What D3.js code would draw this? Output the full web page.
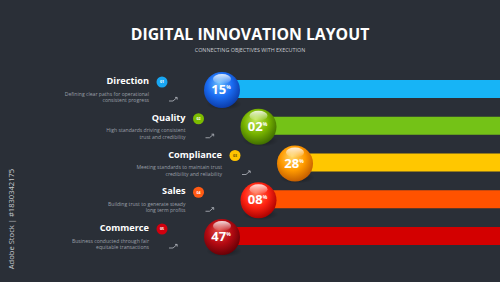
<!DOCTYPE html>
<meta charset="utf-8">
<script src="https://d3js.org/d3.v7.min.js"></script>
<style>
  body { margin: 0; background: #2a2f37; }
  text { font-family: "Open Sans", sans-serif; }
</style>
<svg id="chart" width="500" height="282"></svg>
<script>
// data
const categories = ["Direction", "Quality", "Compliance", "Sales", "Commerce"];
const values = [15, 2, 28, 8, 47];
const badges = ["01", "02", "03", "04", "05"];
const descLine1 = [
  "Defining clear paths for operational",
  "High standards driving consistent",
  "Meeting standards to maintain trust",
  "Building trust to generate steady",
  "Business conducted through fair"
];
const descLine2 = [
  "consistent progress",
  "trust and credibility",
  "credibility and reliability",
  "long term profits",
  "equitable transactions"
];

// look
const barColors = ["#17b4f6", "#74c217", "#ffc700", "#ff5200", "#d30000"];
const ballColors = [
  ["#6cc0ff", "#1a6cf2", "#0b3aa6"],
  ["#c2e85a", "#78b400", "#3d6a00"],
  ["#ffd86a", "#ff9a00", "#c05a00"],
  ["#ff7a5a", "#ff2412", "#a80000"],
  ["#e2504a", "#b50a12", "#640006"]
];
const badgeColors = ["#18a6f2", "#7cbc00", "#ffc400", "#ff5a14", "#d0000e"];
const stagger = [0, 1, 2, 1, 0];

const svg = d3.select("#chart");
const W = 500;

const y = d3.scalePoint().domain(categories).range([89, 236]);
const x = d3.scaleLinear().domain([0, 2]).range([222, 295]);
const R = 18;

// title
svg.append("text").attr("x", 250).attr("y", 40).attr("text-anchor", "middle")
  .attr("fill", "#ffffff").attr("font-size", 15.8).attr("font-weight", 700)
  .text("DIGITAL INNOVATION LAYOUT");
svg.append("text").attr("x", 250).attr("y", 52).attr("text-anchor", "middle")
  .attr("fill", "#c9ccd2").attr("font-size", 5.4)
  .text("CONNECTING OBJECTIVES WITH EXECUTION");

// vertical stock id
svg.append("text")
  .attr("transform", "translate(14,219) rotate(-90)")
  .attr("text-anchor", "middle").attr("fill", "#c4c7cc")
  .attr("font-size", 7.6).attr("font-family", "DejaVu Sans, sans-serif")
  .text("Adobe Stock | #1830342175");

// gradients
const defs = svg.append("defs");
ballColors.forEach((c, i) => {
  const g = defs.append("radialGradient").attr("id", "ball" + i)
    .attr("cx", "45%").attr("cy", "40%").attr("r", "62%").attr("fx", "42%").attr("fy", "30%");
  g.append("stop").attr("offset", "0%").attr("stop-color", c[0]);
  g.append("stop").attr("offset", "55%").attr("stop-color", c[1]);
  g.append("stop").attr("offset", "100%").attr("stop-color", c[2]);
});
const hl = defs.append("linearGradient").attr("id", "hl")
  .attr("x1", 0).attr("y1", 0).attr("x2", 0).attr("y2", 1);
hl.append("stop").attr("offset", "0%").attr("stop-color", "#fff").attr("stop-opacity", 0.85);
hl.append("stop").attr("offset", "100%").attr("stop-color", "#fff").attr("stop-opacity", 0);
const sh = defs.append("radialGradient").attr("id", "shadow");
sh.append("stop").attr("offset", "0%").attr("stop-color", "#000").attr("stop-opacity", 0.45);
sh.append("stop").attr("offset", "100%").attr("stop-color", "#000").attr("stop-opacity", 0);

const rows = svg.selectAll("g.row")
  .data(categories.map((c, i) => ({
    cat: c, val: values[i], badge: badges[i], d1: descLine1[i], d2: descLine2[i], i
  })))
  .join("g").attr("class", "row");

// bars
rows.append("rect")
  .attr("x", d => x(stagger[d.i]))
  .attr("y", d => y(d.cat) - 9)
  .attr("width", d => W - x(stagger[d.i]))
  .attr("height", 18)
  .attr("fill", d => barColors[d.i]);

// ball shadow
rows.append("ellipse")
  .attr("cx", d => x(stagger[d.i]) + 2)
  .attr("cy", d => y(d.cat) + 15)
  .attr("rx", R).attr("ry", 6)
  .attr("fill", "url(#shadow)");

// balls
rows.append("circle")
  .attr("cx", d => x(stagger[d.i]))
  .attr("cy", d => y(d.cat) + 1)
  .attr("r", R)
  .attr("fill", d => `url(#ball${d.i})`);
rows.append("ellipse")
  .attr("cx", d => x(stagger[d.i]))
  .attr("cy", d => y(d.cat) - 10)
  .attr("rx", 9).attr("ry", 5)
  .attr("fill", "url(#hl)");

// percent labels
const pct = rows.append("text")
  .attr("x", d => x(stagger[d.i]) - 1)
  .attr("y", d => y(d.cat) + 5)
  .attr("text-anchor", "middle")
  .attr("fill", "#ffffff")
  .attr("font-family", "'Liberation Sans Narrow', 'DejaVu Sans Condensed', sans-serif")
  .attr("font-weight", 700)
  .attr("font-size", 13);
pct.append("tspan").text(d => d3.format("02d")(d.val));
pct.append("tspan").attr("font-size", 5).attr("dy", -5).text("%");

// category labels
rows.append("text")
  .attr("x", d => x(stagger[d.i]) - 73)
  .attr("y", d => y(d.cat) - 5)
  .attr("text-anchor", "end")
  .attr("fill", "#ffffff").attr("font-size", 9.2).attr("font-weight", 700)
  .text(d => d.cat);

// badges
rows.append("circle")
  .attr("cx", d => x(stagger[d.i]) - 60)
  .attr("cy", d => y(d.cat) - 7)
  .attr("r", 5.5)
  .attr("fill", d => badgeColors[d.i]);
rows.append("text")
  .attr("x", d => x(stagger[d.i]) - 60)
  .attr("y", d => y(d.cat) - 5.7)
  .attr("text-anchor", "middle")
  .attr("fill", d => d.i === 2 ? "#6a5200" : "#ffffff")
  .attr("font-size", 3.6).attr("font-weight", 700)
  .text(d => d.badge);

// descriptions
rows.append("text")
  .attr("x", d => x(stagger[d.i]) - 73)
  .attr("y", d => y(d.cat) + 6.5)
  .attr("text-anchor", "end")
  .attr("fill", "#9a9fa8").attr("font-size", 5.1)
  .text(d => d.d1);
rows.append("text")
  .attr("x", d => x(stagger[d.i]) - 73)
  .attr("y", d => y(d.cat) + 13)
  .attr("text-anchor", "end")
  .attr("fill", "#9a9fa8").attr("font-size", 5.1)
  .text(d => d.d2);

// small trend icons
rows.append("path")
  .attr("transform", d => `translate(${x(stagger[d.i]) - 53},${y(d.cat) + 12})`)
  .attr("d", "M0,0 H4 L8,-3.5 M6,-3.6 H8.2 V-1.4")
  .attr("fill", "none").attr("stroke", "#b5b9c0").attr("stroke-width", 0.8);
</script>
